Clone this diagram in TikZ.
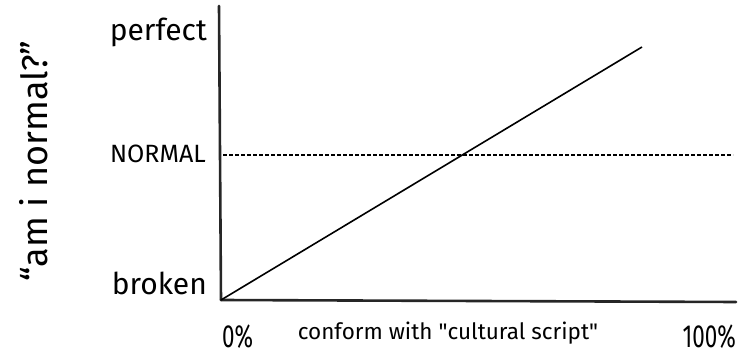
\documentclass[tikz,border=0pt]{standalone}
\usepackage{fontspec}
\setmainfont{Fira Sans}
\begin{document}
\begin{tikzpicture}[x=1pt,y=1pt,
  axis/.style={line width=2.6pt, black!85, line cap=round},
  trend/.style={line width=1.6pt, black},
  normline/.style={line width=1.1pt, black, dash pattern=on 3.5pt off 2.5pt},
  lab/.style={inner sep=0pt, font=\fontsize{30}{30}\selectfont},
  pctlab/.style={inner sep=0pt, font=\fontsize{32}{32}\selectfont},
  smalllab/.style={inner sep=0pt, font=\fontsize{22.5}{22.5}\selectfont}]
\useasboundingbox (0,0) rectangle (745,359);
\coordinate (O) at (221,59);
\coordinate (ytop) at (219,353);
\coordinate (xend) at (736,57);
\coordinate (dend) at (642,312);
\coordinate (ns) at (223,204);
\coordinate (ne) at (733,204);
\draw[axis] (O) -- (ytop);
\draw[axis] (O) -- (xend);
\draw[trend] (O) -- (dend);
\draw[normline] (ns) -- (ne);
\node[lab, anchor=east] (perfect) at (207,327) {perfect};
\node[inner sep=0pt, anchor=east, font=\fontsize{25}{25}\selectfont] (normal) at (206,205) {NORMAL};
\node[lab, anchor=east] (broken) at (207,76) {broken};
\node[inner sep=0pt, rotate=90, font=\fontsize{36}{36}\selectfont] (ylab) at (34,198) {“am i normal?”};
\node[pctlab, anchor=west] (zero) at (222,22) {\scalebox{0.7}[1]{0\%}};
\node[smalllab] (xlab) at (448,26) {conform with \textquotedbl cultural script\textquotedbl};
\node[pctlab, anchor=east] (hundred) at (736,22) {\scalebox{0.7}[1]{100\%}};
\end{tikzpicture}
\end{document}
